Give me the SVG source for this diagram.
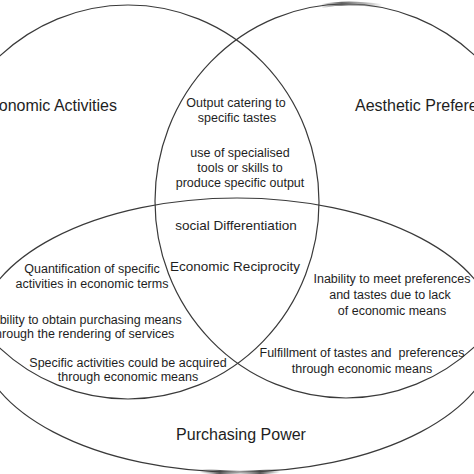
<svg xmlns="http://www.w3.org/2000/svg" width="474" height="474" viewBox="0 0 474 474">
  <style>
    .set { fill: none; stroke: #3a3a3a; stroke-width: 1.2; }
    text { font-family: "Liberation Sans", Arial, sans-serif; fill: #1e1e1e; text-anchor: middle; }
    .big { font-size: 16px; }
    .mid { font-size: 13.5px; }
    .sm { font-size: 12.5px; }
  </style>
  <defs>
    <linearGradient id="smudgeTop" x1="320" y1="0" x2="382" y2="0" gradientUnits="userSpaceOnUse">
      <stop offset="0" stop-color="#3a3a3a" stop-opacity="0"/>
      <stop offset="0.35" stop-color="#555" stop-opacity="0.9"/>
      <stop offset="0.6" stop-color="#777" stop-opacity="0.7"/>
      <stop offset="1" stop-color="#3a3a3a" stop-opacity="0"/>
    </linearGradient>
    <linearGradient id="smudgeBot" x1="200" y1="0" x2="280" y2="0" gradientUnits="userSpaceOnUse">
      <stop offset="0" stop-color="#3a3a3a" stop-opacity="0"/>
      <stop offset="0.25" stop-color="#444" stop-opacity="0.9"/>
      <stop offset="0.5" stop-color="#aaa" stop-opacity="0.5"/>
      <stop offset="0.75" stop-color="#444" stop-opacity="0.9"/>
      <stop offset="1" stop-color="#3a3a3a" stop-opacity="0"/>
    </linearGradient>
  </defs>

  <rect width="474" height="474" fill="#fff"/>

  <g id="economic-activities">
    <ellipse class="set" cx="128" cy="202" rx="191" ry="197"/>
    <text class="big" x="117" y="111" style="text-anchor:end">Economic Activities</text>
  </g>

  <g id="aesthetic-preferences">
    <ellipse class="set" cx="346" cy="201" rx="191" ry="197"/>
    <text class="big" x="355" y="111" style="text-anchor:start">Aesthetic Preferences</text>
    <path d="M322,6 Q346,1 382,6" fill="none" stroke="url(#smudgeTop)" stroke-width="4"/>
  </g>

  <g id="purchasing-power">
    <ellipse class="set" cx="237" cy="335" rx="260" ry="137"/>
    <text class="big" x="241" y="440">Purchasing Power</text>
    <path d="M200,471 Q240,474 280,471" fill="none" stroke="url(#smudgeBot)" stroke-width="4"/>
  </g>

  <g id="econ-aesthetic">
    <text class="sm" x="236" y="107">Output catering to</text>
    <text class="sm" x="237" y="122">specific tastes</text>
    <text class="sm" x="240" y="157">use of specialised</text>
    <text class="sm" x="240" y="172">tools or skills to</text>
    <text class="sm" x="240" y="187">produce specific output</text>
  </g>

  <g id="center">
    <text class="mid" x="236" y="230">social Differentiation</text>
    <text class="mid" x="235" y="271">Economic Reciprocity</text>
  </g>

  <g id="econ-purchasing">
    <text class="sm" x="92" y="273">Quantification of specific</text>
    <text class="sm" x="92" y="288">activities in economic terms</text>
    <text class="sm" x="82" y="324">Inability to obtain purchasing means</text>
    <text class="sm" x="83" y="338">through the rendering of services</text>
    <text class="sm" x="128" y="367">Specific activities could be acquired</text>
    <text class="sm" x="128" y="381">through economic means</text>
  </g>

  <g id="aesthetic-purchasing">
    <text class="sm" x="392" y="283">Inability to meet preferences</text>
    <text class="sm" x="390" y="299">and tastes due to lack</text>
    <text class="sm" x="392" y="315">of economic means</text>
    <text class="sm" x="362" y="357" xml:space="preserve">Fulfillment of tastes and  preferences</text>
    <text class="sm" x="362" y="373">through economic means</text>
  </g>

  <g id="connectors"></g>
</svg>
